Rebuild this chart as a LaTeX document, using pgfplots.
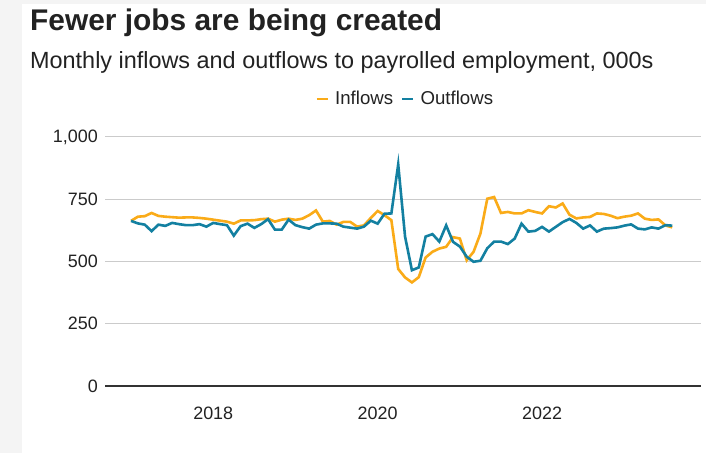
\documentclass[border=0pt]{standalone}
\usepackage{fontspec}
\setmainfont{Liberation Sans}
\usepackage{pgfplots}
\pgfplotsset{compat=1.18}
\usepackage{pgfplotstable}
\definecolor{inflow}{HTML}{FAAB18}
\definecolor{outflow}{HTML}{1380A1}
\definecolor{gridc}{HTML}{CBCBCB}
\definecolor{txt}{HTML}{222222}
\definecolor{bg}{HTML}{F4F4F4}
\definecolor{base}{HTML}{333333}

\pgfplotstableread{
m inf outf
0 663 663
1 680 653
2 682 648
3 695 622
4 683 648
5 680 643
6 678 655
7 676 650
8 677 646
9 677 646
10 675 650
11 672 640
12 668 655
13 664 650
14 660 646
15 652 604
16 665 642
17 665 652
18 666 635
19 670 650
20 672 670
21 660 628
22 668 628
23 672 668
24 667 646
25 672 638
26 686 632
27 705 648
28 660 653
29 663 653
30 648 652
31 659 640
32 659 636
33 640 632
34 645 640
35 675 664
36 703 652
37 686 692
38 666 693
39 470 890
40 436 600
41 416 465
42 437 476
43 516 600
44 539 610
45 552 580
46 559 645
47 598 579
48 592 560
49 505 519
50 539 499
51 612 503
52 752 553
53 759 580
54 695 580
55 699 570
56 693 592
57 693 652
58 706 620
59 699 623
60 693 639
61 722 620
62 717 639
63 733 658
64 688 671
65 673 655
66 677 632
67 679 645
68 693 620
69 691 632
70 684 634
71 674 637
72 680 644
73 684 649
74 693 632
75 672 629
76 667 637
77 669 632
78 645 646
79 637 644
}\flows

\begin{document}
\begin{tikzpicture}[x=1bp,y=1bp]
\useasboundingbox (0,0) rectangle (706,-453);
\fill[bg] (0,0) rectangle (706,-453);
\fill[white] (22,-4) rectangle (706,-453);
\node[anchor=base west, font=\fontsize{30}{33}\selectfont\bfseries, text=txt, inner sep=0pt] at (30,-30.5) {Fewer jobs are being created};
\node[anchor=base west, font=\fontsize{23.5}{26}\selectfont, text=txt, inner sep=0pt] at (30,-68.5) {Monthly inflows and outflows to payrolled employment, 000s};
\begin{axis}[
  at={(105bp,-386bp)}, anchor=south west,
  scale only axis, width=596bp, height=249bp,
  xmin=-3.8, xmax=83.2, ymin=0, ymax=1000,
  xtick={12,36,60}, xticklabels={2018,2020,2022},
  ytick={250,500,750,1000}, extra y ticks={0},
  extra y tick style={grid style={draw=base, line width=2bp}},
  ymajorgrids, grid style={gridc, line width=1bp},
  axis line style={draw=none},
  major tick length=0pt,
  tick label style={font=\fontsize{18}{20}\selectfont, text=txt},
  /pgf/number format/assume math mode=true,
  /pgf/number format/1000 sep={,},
  yticklabel style={inner sep=0pt, xshift=-7bp},
  xticklabel style={inner sep=0pt, yshift=-21bp},
  clip=false,
  legend columns=2,
  legend style={at={(0.504,1.153)}, anchor=center, draw=none, fill=none,
    font=\fontsize{18.7}{20}\selectfont, text=txt,
    /tikz/every odd column/.append style={column sep=4bp},
    /tikz/every even column/.append style={column sep=6bp}},
  legend image code/.code={\draw[#1, line width=2.5bp] (0bp,0bp) -- (11bp,0bp);},
]
\addplot[inflow, line width=2.6bp] table[x=m, y=inf]{\flows};
\addlegendentry{Inflows}
\addplot[outflow, line width=2.6bp] table[x=m, y=outf]{\flows};
\addlegendentry{Outflows}
\end{axis}
\end{tikzpicture}
\end{document}
